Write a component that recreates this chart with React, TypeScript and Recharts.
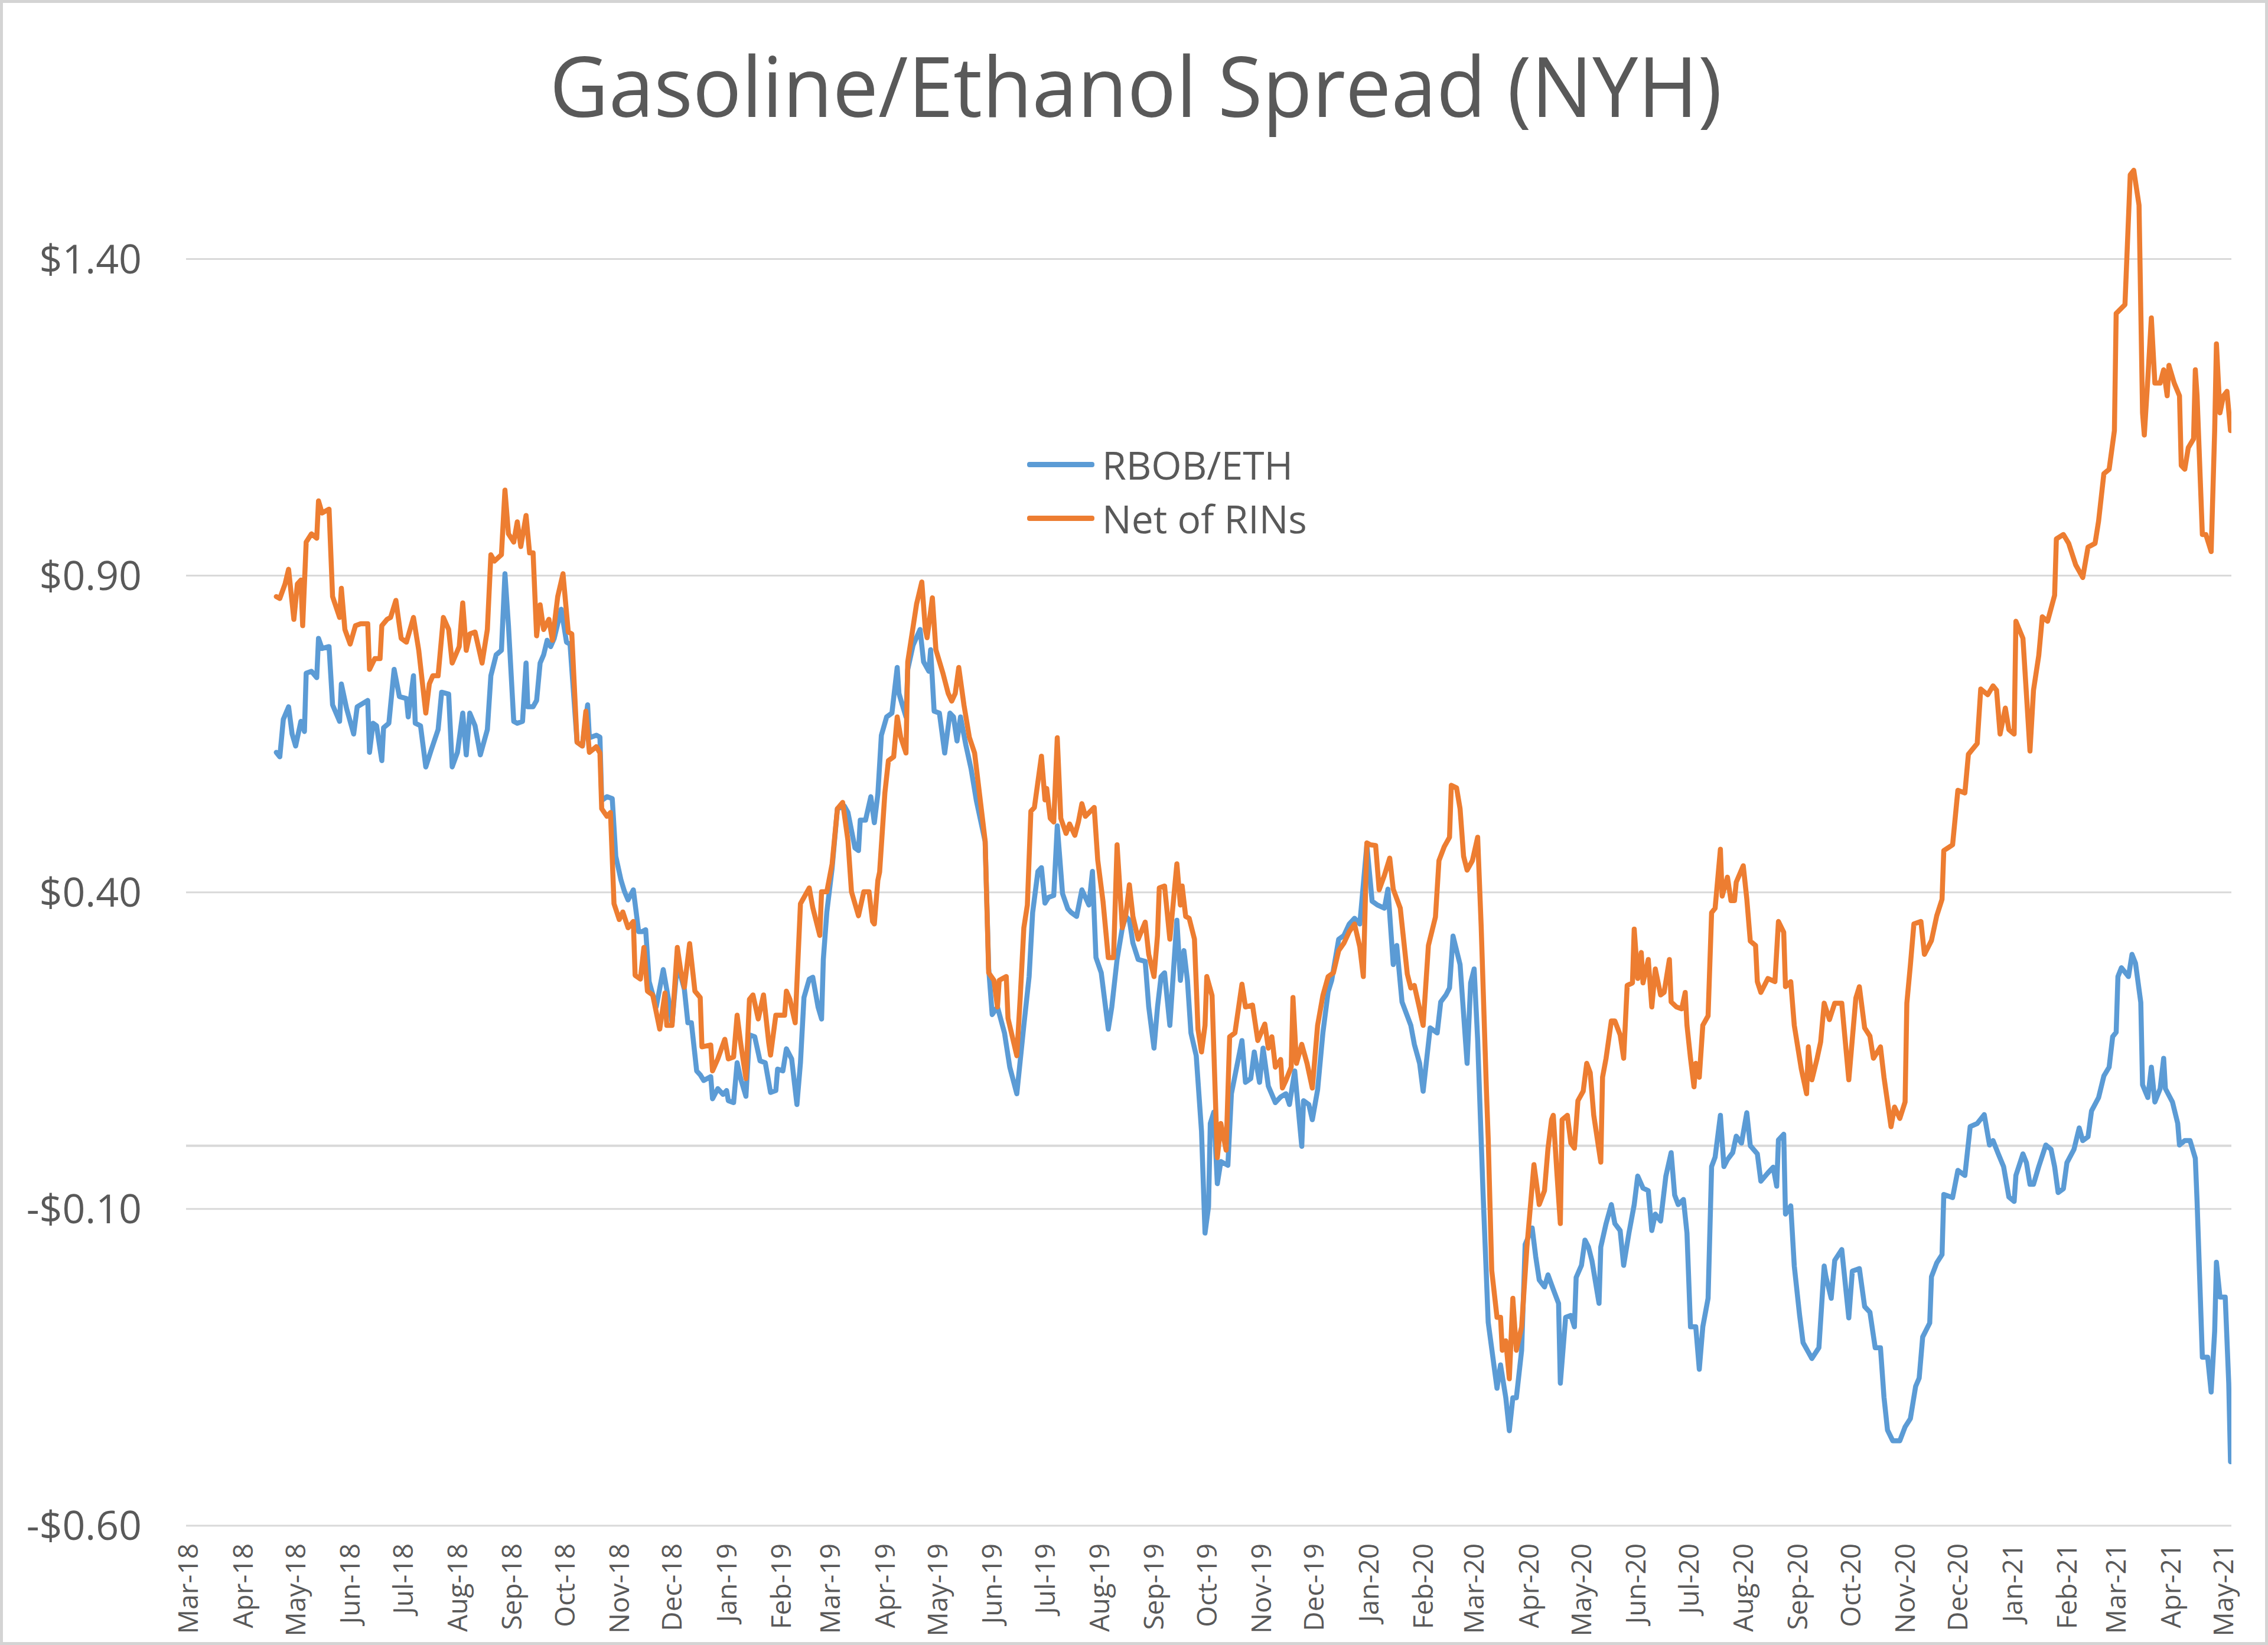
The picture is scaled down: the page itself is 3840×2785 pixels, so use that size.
import React from "react";
import { LineChart, Line, XAxis, YAxis, ReferenceLine, Legend } from "recharts";

const FONT = "'Open Sans', 'Noto Sans', sans-serif";
const TEXT = "#595959";
const GRID = "#d9d9d9";

// x values are days since 2018-03-01
const monthTickDays = [0, 31, 61, 92, 122, 153, 184, 214, 245, 275, 306, 337, 365, 396, 426, 457, 487, 518, 549, 579, 610, 640, 671, 702, 731, 762, 792, 823, 853, 884, 915, 945, 976, 1006, 1037, 1068, 1096, 1127, 1157];
const monthLabels = ["Mar-18", "Apr-18", "May-18", "Jun-18", "Jul-18", "Aug-18", "Sep-18", "Oct-18", "Nov-18", "Dec-18", "Jan-19", "Feb-19", "Mar-19", "Apr-19", "May-19", "Jun-19", "Jul-19", "Aug-19", "Sep-19", "Oct-19", "Nov-19", "Dec-19", "Jan-20", "Feb-20", "Mar-20", "Apr-20", "May-20", "Jun-20", "Jul-20", "Aug-20", "Sep-20", "Oct-20", "Nov-20", "Dec-20", "Jan-21", "Feb-21", "Mar-21", "Apr-21", "May-21"];

const yTicks = [-0.6, -0.1, 0.4, 0.9, 1.4];
const seriesNames = ["RBOB/ETH", "Net of RINs"];

const rbobDays = [50, 52, 54, 57, 59, 61, 64, 66, 67, 70, 73, 74, 76, 80, 82, 86, 87, 90, 94, 96, 102, 103, 105, 107, 110, 111, 114, 117, 120, 124, 125, 128, 129, 132, 135, 138, 142, 144, 148, 150, 153, 156, 158, 160, 163, 166, 170, 172, 175, 178, 180, 182, 185, 187, 190, 192, 193, 196, 198, 200, 202, 204, 206, 208, 212, 215, 217, 221, 224, 227, 228,
  232, 234, 235, 238, 241, 243, 246, 248, 250, 253, 256, 258, 260, 262, 266, 270, 273, 275, 278, 282, 284, 286, 289, 291, 293, 297, 298, 301, 304, 306, 307, 310, 312, 314, 317, 319, 322, 325, 328, 331, 334, 335, 338, 340, 343, 346, 348, 350, 353, 355, 358, 360, 361, 363, 366, 369, 373, 375, 379, 381, 382, 385, 388, 390, 392, 394, 397, 400, 403, 404, 406, 408, 409, 412, 416, 418, 421, 422, 424, 427, 430, 433, 435, 437, 439, 442, 445,
  448, 453, 455, 457, 460, 464, 467, 471, 475, 478, 480, 483, 485, 487, 489, 492, 494, 497, 500, 502, 505, 508, 512, 514, 516, 519, 523, 525, 528, 531, 533, 535, 537, 540, 544, 546, 549, 551, 553, 555, 558, 562, 564, 566, 568, 570, 573, 576, 578, 580, 581, 583, 585, 587, 591, 593, 596, 599, 601, 604, 606, 609, 611, 614, 618, 621, 624, 626, 629, 633, 634, 637, 639, 642, 645, 648, 650, 654, 657, 660, 663, 666, 670, 673, 676,
  680, 682, 685, 687, 690, 695, 697, 700, 702, 706, 710, 712, 715, 717, 719, 723, 727, 729, 731, 733, 736, 739, 744, 746, 749, 751, 753, 755, 758, 760, 764, 766, 768, 771, 773, 776, 779, 780, 783, 786, 788, 789, 792, 794, 796, 798, 802, 803, 806, 809, 811, 814, 816, 819, 822, 824, 827, 830, 832, 834, 837, 840, 843, 845, 847, 850, 852, 854, 857, 859, 861, 864, 866, 868, 871, 873, 875, 878, 880, 883, 886, 888,
  892, 894, 898, 901, 903, 904, 907, 908, 911, 913, 916, 918, 923, 927, 930, 931, 934, 936, 940, 944, 946, 950, 953, 956, 959, 962, 964, 966, 969, 973, 976, 979, 982, 984, 986, 990, 991, 994, 997, 998, 1003, 1006, 1010, 1013, 1017,
  1021, 1024, 1026, 1029, 1032, 1035, 1038, 1039, 1043, 1045, 1047, 1049, 1052, 1056, 1059, 1061, 1063, 1066, 1068, 1072, 1075, 1077, 1080, 1082, 1086, 1089, 1092, 1094, 1096, 1097, 1099, 1103, 1105, 1107, 1110, 1111, 1114, 1116, 1118, 1121, 1123, 1124, 1128, 1131, 1132, 1135, 1138, 1141, 1142, 1145, 1148, 1150, 1152, 1153, 1155, 1158, 1160, 1161];
const rbobValues = [0.621, 0.614, 0.673, 0.693, 0.650, 0.631, 0.670, 0.654, 0.746, 0.749, 0.739, 0.801, 0.785, 0.788, 0.696, 0.670, 0.729, 0.690, 0.650, 0.693, 0.703, 0.621, 0.667, 0.663, 0.608, 0.660, 0.667, 0.752, 0.709, 0.706, 0.677, 0.742, 0.667, 0.663, 0.598, 0.624, 0.657, 0.716, 0.713, 0.598, 0.621, 0.683, 0.617, 0.683, 0.663, 0.617, 0.657, 0.742, 0.775, 0.782, 0.903, 0.821, 0.670, 0.667, 0.670, 0.762, 0.693, 0.693, 0.703, 0.762, 0.775, 0.798, 0.788, 0.801, 0.847, 0.795, 0.792, 0.637, 0.631, 0.696, 0.644,
  0.648, 0.645, 0.545, 0.551, 0.548, 0.457, 0.419, 0.401, 0.388, 0.404, 0.338, 0.338, 0.341, 0.259, 0.219, 0.278, 0.231, 0.194, 0.288, 0.247, 0.194, 0.194, 0.118, 0.112, 0.103, 0.109, 0.074, 0.090, 0.081, 0.087, 0.071, 0.068, 0.131, 0.106, 0.078, 0.175, 0.172, 0.134, 0.131, 0.084, 0.087, 0.121, 0.118, 0.153, 0.137, 0.065, 0.131, 0.234, 0.263, 0.266, 0.219, 0.200, 0.294, 0.369, 0.438, 0.532, 0.536, 0.526, 0.470, 0.466, 0.514, 0.514, 0.551, 0.510, 0.555, 0.648, 0.677, 0.683, 0.755, 0.714, 0.695, 0.677, 0.752, 0.790, 0.815, 0.764, 0.749, 0.783, 0.686, 0.683, 0.620, 0.683, 0.677, 0.639, 0.677, 0.633, 0.595,
  0.545, 0.480, 0.280, 0.207, 0.219, 0.178, 0.124, 0.082, 0.190, 0.267, 0.368, 0.433, 0.439, 0.383, 0.392, 0.395, 0.505, 0.398, 0.374, 0.368, 0.362, 0.404, 0.380, 0.433, 0.297, 0.273, 0.184, 0.219, 0.294, 0.344, 0.362, 0.356, 0.320, 0.294, 0.291, 0.219, 0.154, 0.219, 0.267, 0.273, 0.190, 0.356, 0.261, 0.308, 0.261, 0.178, 0.142, 0.023, -0.138, -0.096, 0.035, 0.053, -0.060, -0.025, -0.031, 0.082, 0.124, 0.166, 0.100, 0.106, 0.148, 0.100, 0.154, 0.094, 0.068, 0.077, 0.082, 0.065, 0.118, -0.001, 0.071, 0.065, 0.041, 0.088, 0.178, 0.243, 0.261, 0.326, 0.332, 0.350, 0.359, 0.350, 0.475, 0.386, 0.380,
  0.375, 0.405, 0.286, 0.316, 0.227, 0.190, 0.160, 0.130, 0.086, 0.186, 0.178, 0.227, 0.238, 0.249, 0.331, 0.286, 0.130, 0.257, 0.279, 0.167, -0.070, -0.279, -0.383, -0.346, -0.398, -0.450, -0.398, -0.398, -0.323, -0.156, -0.130, -0.175, -0.212, -0.223, -0.204, -0.227, -0.249, -0.375, -0.271, -0.268, -0.286, -0.208, -0.189, -0.149, -0.160, -0.182, -0.249, -0.160, -0.123, -0.093, -0.123, -0.134, -0.189, -0.138, -0.093, -0.048, -0.067, -0.071, -0.134, -0.108, -0.119, -0.048, -0.011, -0.078, -0.093, -0.085, -0.138, -0.286, -0.286, -0.353, -0.286, -0.241, -0.033, -0.018, 0.048, -0.033, -0.022, -0.011, 0.015, 0.004, 0.052, 0.000,
  -0.013, -0.056, -0.043, -0.034, -0.064, 0.009, 0.018, -0.108, -0.095, -0.190, -0.267, -0.311, -0.336, -0.319, -0.190, -0.207, -0.241, -0.181, -0.164, -0.272, -0.198, -0.194, -0.254, -0.263, -0.319, -0.319, -0.397, -0.449, -0.466, -0.466, -0.444, -0.431, -0.380, -0.367, -0.302, -0.280, -0.207, -0.185, -0.172, -0.077, -0.082, -0.039, -0.047, 0.030, 0.035,
  0.049, 0.001, 0.008, -0.013, -0.033, -0.081, -0.088, -0.047, -0.013, -0.027, -0.061, -0.061, -0.033, 0.001, -0.006, -0.033, -0.074, -0.068, -0.027, -0.006, 0.028, 0.008, 0.014, 0.055, 0.076, 0.110, 0.124, 0.172, 0.179, 0.267, 0.281, 0.267, 0.302, 0.288, 0.226, 0.096, 0.076, 0.124, 0.069, 0.090, 0.138, 0.090, 0.069, 0.035, 0.001, 0.008, 0.008, -0.020, -0.088, -0.334, -0.334, -0.389, -0.293, -0.184, -0.239, -0.239, -0.375, -0.499];

const rinsDays = [50, 52, 55, 57, 60, 62, 64, 65, 67, 70, 73, 74, 76, 80, 82, 86, 87, 89, 92, 95, 98, 102, 103, 106, 109, 110, 113, 115, 118, 121, 124, 128, 131, 135, 137, 139, 142, 145, 148, 150, 154, 156, 158, 160, 163, 167, 170, 172, 174, 178, 180, 182, 185, 187, 189, 192, 194, 196, 198, 200, 202, 205, 207, 210, 213, 216, 218, 221, 224, 226, 228,
  232, 234, 235, 238, 240, 242, 245, 247, 250, 253, 254, 257, 259, 261, 264, 268, 271, 272, 275, 278, 280, 282, 285, 288, 291, 292, 297, 298, 301, 305, 307, 310, 312, 314, 317, 319, 321, 324, 327, 330, 331, 334, 339, 340, 342, 345, 348, 353, 355, 359, 360, 363, 366, 369, 372, 375, 377, 381, 384, 387, 389, 390, 392, 393, 396, 398, 401, 403, 405, 408, 409, 414, 417, 419, 420, 423, 425, 429, 432, 434, 436, 438, 441, 444, 447,
  448, 453, 455, 458, 460, 461, 465, 466, 471, 473, 475, 477, 479, 481, 485, 487, 488, 490, 492, 494, 496, 499, 501, 504, 506, 508, 510, 515, 517, 520, 523, 526, 528, 531, 533, 535, 537, 540, 544, 546, 549, 551, 552, 555, 558, 562, 564, 565, 567, 569, 572, 574, 576, 578, 579, 582, 585, 587, 590, 592, 595, 599, 601, 605, 608, 612, 614, 616, 618, 621, 622, 624, 627, 628, 630, 633, 636, 639, 642, 645, 648, 651, 654, 657, 660, 663, 666, 668, 670, 672, 675, 677, 680,
  683, 685, 689, 693, 695, 697, 700, 702, 705, 709, 711, 714, 717, 718, 721, 723, 725, 727, 730, 733, 735, 738, 739, 741, 744, 746, 747, 749, 751, 753, 755, 758, 761, 765, 767, 768, 771, 773, 775, 776, 778, 780, 781, 784, 786, 788, 790, 793, 795, 797, 799, 803, 804, 806, 809, 811, 814, 816, 818, 821, 822, 824, 826, 827, 830, 832, 834, 837, 839, 842, 843, 846, 849, 851, 852, 854, 856, 857, 859, 861, 864, 866, 868, 871, 872, 875, 877, 879, 880, 884, 886, 888, 891,
  892, 894, 898, 902, 904, 907, 908, 911, 913, 917, 920, 921, 923, 926, 928, 930, 933, 936, 940, 944, 948, 950, 953, 956, 958, 962, 964, 968, 970, 973, 976, 977, 979, 981, 985, 987, 991, 994, 997, 998, 1003, 1006, 1010, 1012, 1017,
  1019, 1023, 1026, 1028, 1030, 1033, 1035, 1038, 1039, 1043, 1047, 1049, 1052, 1054, 1057, 1061, 1062, 1066, 1069, 1073, 1077, 1080, 1084, 1086, 1089, 1092, 1095, 1096, 1101, 1104, 1106, 1109, 1111, 1112, 1114, 1116, 1118, 1121, 1123, 1125, 1126, 1129, 1132, 1133, 1135, 1137, 1140, 1141, 1142, 1145, 1147, 1150, 1152, 1153, 1155, 1157, 1159, 1161];
const rinsValues = [0.867, 0.864, 0.887, 0.910, 0.831, 0.887, 0.893, 0.821, 0.953, 0.966, 0.959, 1.018, 0.999, 1.005, 0.867, 0.834, 0.880, 0.815, 0.792, 0.821, 0.824, 0.824, 0.752, 0.769, 0.769, 0.821, 0.831, 0.834, 0.861, 0.801, 0.795, 0.834, 0.782, 0.683, 0.729, 0.742, 0.742, 0.834, 0.815, 0.762, 0.788, 0.857, 0.782, 0.808, 0.811, 0.762, 0.815, 0.933, 0.923, 0.933, 1.035, 0.966, 0.953, 0.985, 0.946, 0.995, 0.936, 0.936, 0.805, 0.854, 0.815, 0.831, 0.798, 0.867, 0.903, 0.811, 0.808, 0.637, 0.631, 0.686, 0.621,
  0.630, 0.620, 0.532, 0.520, 0.526, 0.382, 0.357, 0.369, 0.344, 0.354, 0.269, 0.263, 0.313, 0.244, 0.238, 0.184, 0.241, 0.190, 0.190, 0.313, 0.275, 0.250, 0.319, 0.244, 0.234, 0.156, 0.159, 0.118, 0.137, 0.168, 0.137, 0.140, 0.206, 0.162, 0.106, 0.231, 0.238, 0.200, 0.238, 0.162, 0.143, 0.206, 0.206, 0.244, 0.231, 0.194, 0.382, 0.407, 0.376, 0.332, 0.401, 0.401, 0.445, 0.532, 0.542, 0.482, 0.401, 0.363, 0.401, 0.401, 0.354, 0.350, 0.419, 0.432, 0.557, 0.608, 0.614, 0.677, 0.645, 0.620, 0.764, 0.855, 0.890, 0.815, 0.802, 0.865, 0.783, 0.746, 0.714, 0.702, 0.714, 0.755, 0.695, 0.645, 0.620,
  0.597, 0.481, 0.273, 0.261, 0.219, 0.261, 0.267, 0.201, 0.142, 0.237, 0.344, 0.380, 0.528, 0.534, 0.615, 0.546, 0.564, 0.517, 0.511, 0.644, 0.517, 0.493, 0.508, 0.490, 0.511, 0.540, 0.520, 0.534, 0.451, 0.386, 0.297, 0.297, 0.475, 0.344, 0.365, 0.412, 0.362, 0.326, 0.353, 0.302, 0.267, 0.332, 0.407, 0.410, 0.326, 0.445, 0.380, 0.410, 0.362, 0.359, 0.326, 0.184, 0.148, 0.190, 0.267, 0.237, -0.019, 0.035, -0.007, 0.172, 0.178, 0.255, 0.219, 0.222, 0.166, 0.192, 0.154, 0.172, 0.124, 0.136, 0.091, 0.103, 0.124, 0.234, 0.130, 0.160, 0.130, 0.091, 0.190, 0.237, 0.267, 0.273, 0.308, 0.320, 0.338, 0.350, 0.314, 0.267, 0.478, 0.475, 0.474, 0.404, 0.427,
  0.454, 0.405, 0.375, 0.271, 0.249, 0.253, 0.216, 0.190, 0.316, 0.361, 0.450, 0.472, 0.487, 0.569, 0.565, 0.532, 0.457, 0.435, 0.450, 0.487, 0.346, 0.086, 0.011, -0.197, -0.271, -0.271, -0.323, -0.308, -0.368, -0.241, -0.323, -0.286, -0.160, -0.030, -0.071, -0.093, -0.071, -0.004, 0.041, 0.048, -0.041, -0.123, 0.041, 0.048, 0.004, -0.004, 0.071, 0.086, 0.130, 0.115, 0.048, -0.026, 0.108, 0.138, 0.197, 0.197, 0.175, 0.138, 0.253, 0.257, 0.342, 0.264, 0.305, 0.257, 0.294, 0.219, 0.279, 0.238, 0.242, 0.294, 0.227, 0.219, 0.216, 0.242, 0.190, 0.138, 0.093, 0.130, 0.108, 0.190, 0.205, 0.368, 0.375, 0.468, 0.394, 0.424, 0.387, 0.387, 0.416, 0.442, 0.390, 0.323, 0.316,
  0.259, 0.242, 0.264, 0.259, 0.354, 0.337, 0.251, 0.259, 0.190, 0.121, 0.082, 0.156, 0.104, 0.138, 0.164, 0.225, 0.199, 0.225, 0.225, 0.104, 0.233, 0.251, 0.186, 0.173, 0.138, 0.156, 0.108, 0.030, 0.061, 0.043, 0.069, 0.225, 0.285, 0.350, 0.354, 0.302, 0.324, 0.363, 0.389, 0.466, 0.475, 0.561, 0.557, 0.618, 0.635,
  0.721, 0.712, 0.726, 0.719, 0.650, 0.691, 0.657, 0.650, 0.828, 0.801, 0.623, 0.719, 0.774, 0.835, 0.828, 0.869, 0.958, 0.965, 0.951, 0.917, 0.897, 0.945, 0.951, 0.986, 1.061, 1.068, 1.129, 1.314, 1.328, 1.533, 1.540, 1.485, 1.157, 1.122, 1.211, 1.307, 1.204, 1.204, 1.225, 1.184, 1.232, 1.204, 1.184, 1.074, 1.068, 1.102, 1.116, 1.225, 1.184, 0.965, 0.965, 0.938, 1.129, 1.266, 1.157, 1.184, 1.191, 1.129];

const rbobData = rbobDays.map((d, i) => ({ day: d, value: rbobValues[i] }));
const rinsData = rinsDays.map((d, i) => ({ day: d, value: rinsValues[i] }));

const fmtMoney = (v: number) => (v < 0 ? "-$" : "$") + Math.abs(v).toFixed(2);

const XTick = (props: any) => {
  const { x, y, payload } = props;
  const idx = monthTickDays.indexOf(payload.value);
  const label = idx >= 0 ? monthLabels[idx] : "";
  return (
    <text x={x} y={y} transform={`rotate(-90, ${x}, ${y})`} textAnchor="end" dy="0.36em" fontSize={46} fill={TEXT} fontFamily={FONT}>
      {label}
    </text>
  );
};

const LegendContent = (props: any) => {
  const items = [...(props.payload || [])].sort(
    (a: any, b: any) => seriesNames.indexOf(a.value) - seriesNames.indexOf(b.value)
  );
  return (
    <div style={{ fontFamily: FONT }}>
      {items.map((p: any) => (
        <div key={p.value} style={{ display: "flex", alignItems: "center", height: 91 }}>
          <span style={{ display: "inline-block", width: 114, height: 9, borderRadius: 4, background: p.color }} />
          <span style={{ marginLeft: 13, fontSize: 66, color: TEXT, lineHeight: "91px" }}>{p.value}</span>
        </div>
      ))}
    </div>
  );
};

export default function App() {
  return (
    <div style={{ position: "absolute", left: 0, top: 0, width: 3840, height: 2785, background: "#ffffff", overflow: "hidden" }}>
      <LineChart width={3840} height={2785} margin={{ top: 224, right: 62, bottom: 0, left: 0 }}>
        <XAxis
          type="number"
          dataKey="day"
          domain={[-1.3, 1161.5]}
          allowDataOverflow
          ticks={monthTickDays}
          interval={0}
          tick={<XTick />}
          tickSize={0}
          tickMargin={30}
          axisLine={false}
          tickLine={false}
          height={202}
        />
        <YAxis
          type="number"
          domain={[-0.6, 1.6]}
          allowDataOverflow
          ticks={yTicks}
          interval={0}
          tickFormatter={fmtMoney}
          tick={{ fontSize: 68, fill: TEXT, fontFamily: FONT }}
          tickSize={0}
          tickMargin={75}
          axisLine={false}
          tickLine={false}
          width={315}
        />
        {yTicks.map((t) => (
          <ReferenceLine key={t} y={t} stroke={GRID} strokeWidth={3} />
        ))}
        <ReferenceLine y={0} stroke={GRID} strokeWidth={4} />
        <Legend
          layout="vertical"
          align="center"
          verticalAlign="middle"
          content={<LegendContent />}
          wrapperStyle={{ position: "absolute", left: 1739, top: 741, width: 700, height: 182 }}
        />
        <Line data={rbobData} dataKey="value" name="RBOB/ETH" type="linear" stroke="#5B9BD5" strokeWidth={8.5} dot={false} activeDot={false} strokeLinejoin="round" strokeLinecap="round" isAnimationActive={false} />
        <Line data={rinsData} dataKey="value" name="Net of RINs" type="linear" stroke="#ED7D31" strokeWidth={8.5} dot={false} activeDot={false} strokeLinejoin="round" strokeLinecap="round" isAnimationActive={false} />
      </LineChart>
      <svg width={3840} height={2785} style={{ position: "absolute", left: 0, top: 0, pointerEvents: "none" }}>
        <text x={1923} y={198} textAnchor="middle" fontSize={141} fill={TEXT} fontFamily={FONT} textLength={1985} lengthAdjust="spacingAndGlyphs">
          Gasoline/Ethanol Spread (NYH)
        </text>
        <rect x={2.5} y={2.5} width={3835} height={2780} fill="none" stroke="#d4d4d4" strokeWidth={5} />
      </svg>
    </div>
  );
}
